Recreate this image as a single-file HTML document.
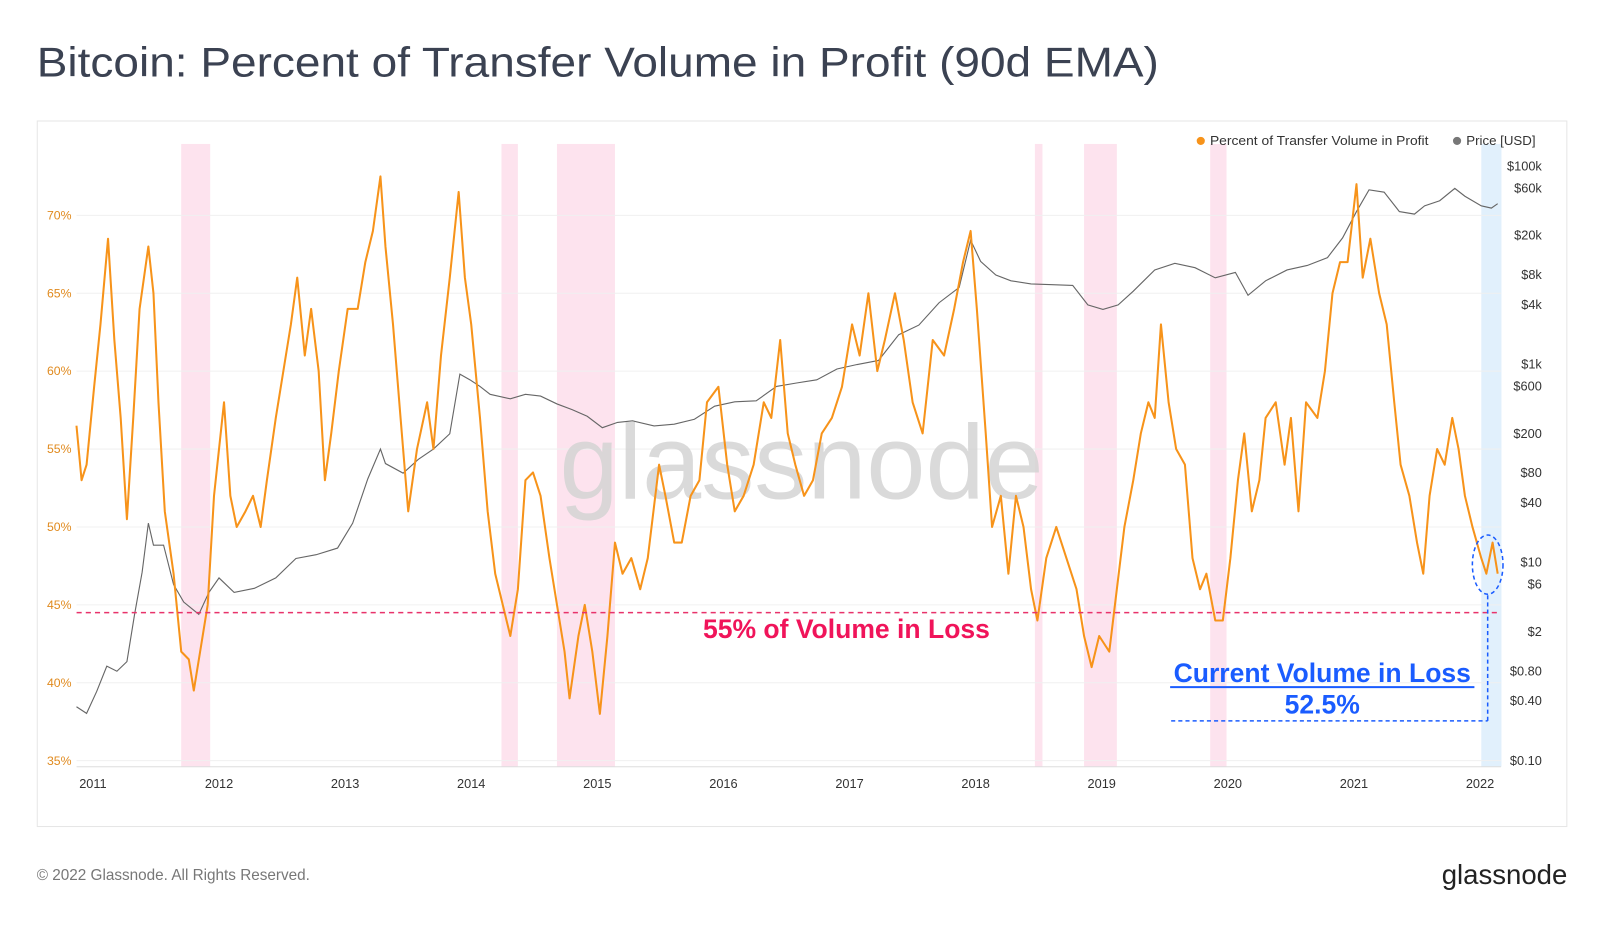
<!DOCTYPE html>
<html><head><meta charset="utf-8"><style>
body{margin:0;background:#fff;font-family:"Liberation Sans",sans-serif;overflow:hidden;}
svg text{font-family:"Liberation Sans",sans-serif;}
</style></head><body>
<svg width="1600" height="922" viewBox="0 0 1567 903" preserveAspectRatio="none">
<text x="36" y="75" font-size="41" fill="#3b4252" textLength="1099" lengthAdjust="spacingAndGlyphs">Bitcoin: Percent of Transfer Volume in Profit (90d EMA)</text>
<rect x="36.5" y="118.5" width="1498" height="691" fill="none" stroke="#e6e6e6"/>
<g id="bands"></g>
<g id="grid"></g>
<text x="785" y="488" font-size="104" fill="#d4d4d4" text-anchor="middle" opacity="0.85">glassnode</text>
<g id="series"></g>
<g id="axes"></g>
<line x1="75" y1="600" x2="1468" y2="600" stroke="#e8336b" stroke-width="1.5" stroke-dasharray="5,4"/>
<text x="829" y="625" font-size="26" font-weight="bold" fill="#f0145a" text-anchor="middle">55% of Volume in Loss</text>
<text x="1295" y="668" font-size="26" font-weight="bold" fill="#1a5cff" text-anchor="middle">Current Volume in Loss</text>
<line x1="1146" y1="673" x2="1444" y2="673" stroke="#1a5cff" stroke-width="2"/>
<text x="1295" y="699" font-size="26" font-weight="bold" fill="#1a5cff" text-anchor="middle">52.5%</text>
<line x1="1147" y1="706" x2="1457" y2="706" stroke="#1a5cff" stroke-width="1.5" stroke-dasharray="4,3"/>
<line x1="1457" y1="583" x2="1457" y2="706" stroke="#1a5cff" stroke-width="1.5" stroke-dasharray="4,3"/>
<ellipse cx="1457" cy="553" rx="15" ry="29" fill="none" stroke="#1a5cff" stroke-width="1.5" stroke-dasharray="4,3"/>
<circle cx="1176" cy="138" r="4" fill="#f7931a"/>
<text x="1185" y="142" font-size="13" fill="#333" textLength="214" lengthAdjust="spacingAndGlyphs">Percent of Transfer Volume in Profit</text>
<circle cx="1427" cy="138" r="4" fill="#777"/>
<text x="1436" y="142" font-size="13" fill="#333">Price [USD]</text>
<text x="36" y="862" font-size="15" fill="#777">© 2022 Glassnode. All Rights Reserved.</text>
<text x="1535" y="866" font-size="27" fill="#222" text-anchor="end">glassnode</text>
</svg>
<script>
const pctDates=[2010.87,2010.91,2010.95,2011.01,2011.06,2011.12,2011.17,2011.22,2011.27,2011.32,2011.37,2011.44,2011.48,2011.52,2011.57,2011.64,2011.70,2011.76,2011.80,2011.85,2011.91,2011.96,2012.04,2012.09,2012.14,2012.21,2012.27,2012.33,2012.38,2012.45,2012.51,2012.57,2012.62,2012.68,2012.73,2012.79,2012.84,2012.89,2012.95,2013.02,2013.10,2013.16,2013.22,2013.28,2013.32,2013.38,2013.44,2013.50,2013.57,2013.65,2013.70,2013.76,2013.83,2013.90,2013.95,2014.00,2014.07,2014.13,2014.19,2014.25,2014.31,2014.37,2014.43,2014.49,2014.55,2014.62,2014.68,2014.74,2014.78,2014.85,2014.90,2014.96,2015.02,2015.08,2015.14,2015.20,2015.27,2015.34,2015.40,2015.49,2015.54,2015.61,2015.67,2015.74,2015.81,2015.87,2015.96,2016.03,2016.09,2016.16,2016.24,2016.32,2016.38,2016.45,2016.51,2016.57,2016.64,2016.71,2016.78,2016.86,2016.94,2017.02,2017.08,2017.15,2017.22,2017.28,2017.36,2017.43,2017.50,2017.58,2017.66,2017.75,2017.83,2017.90,2017.96,2018.01,2018.08,2018.13,2018.20,2018.26,2018.32,2018.38,2018.44,2018.49,2018.56,2018.64,2018.72,2018.80,2018.86,2018.92,2018.98,2019.06,2019.12,2019.18,2019.25,2019.31,2019.37,2019.42,2019.47,2019.53,2019.59,2019.66,2019.72,2019.78,2019.83,2019.90,2019.96,2020.02,2020.08,2020.13,2020.19,2020.25,2020.30,2020.38,2020.45,2020.50,2020.56,2020.62,2020.71,2020.77,2020.83,2020.89,2020.95,2021.02,2021.07,2021.13,2021.20,2021.26,2021.32,2021.37,2021.44,2021.50,2021.55,2021.60,2021.66,2021.72,2021.78,2021.83,2021.88,2021.94,2022.01,2022.05,2022.10,2022.14];
const pctValues=[56.5,53,54,59,63,68.5,62,57,50.5,57,64,68,65,58,51,47,42,41.5,39.5,42,45,52,58,52,50,51,52,50,53,57,60,63,66,61,64,60,53,56,60,64,64,67,69,72.5,68,63,57,51,55,58,55,61,66,71.5,66,63,57,51,47,45,43,46,53,53.5,52,48,45,42,39,43,45,42,38,43,49,47,48,46,48,54,52,49,49,52,53,58,59,54,51,52,54,58,57,62,56,54,52,53,56,57,59,63,61,65,60,62,65,62,58,56,62,61,64,67,69,64,56,50,52,47,52,50,46,44,48,50,48,46,43,41,43,42,46,50,53,56,58,57,63,58,55,54,48,46,47,44,44,48,53,56,51,53,57,58,54,57,51,58,57,60,65,67,67,72,66,68.5,65,63,58,54,52,49,47,52,55,54,57,55,52,50,48,47,49,47];
const priceDates=[2010.87,2010.95,2011.03,2011.11,2011.19,2011.27,2011.33,2011.39,2011.44,2011.48,2011.56,2011.64,2011.72,2011.84,2011.92,2012.0,2012.12,2012.28,2012.45,2012.61,2012.77,2012.94,2013.06,2013.18,2013.28,2013.32,2013.46,2013.58,2013.70,2013.83,2013.91,2013.99,2014.07,2014.15,2014.31,2014.43,2014.55,2014.68,2014.80,2014.92,2015.04,2015.16,2015.28,2015.45,2015.61,2015.77,2015.93,2016.09,2016.26,2016.42,2016.58,2016.74,2016.90,2017.06,2017.23,2017.39,2017.55,2017.71,2017.87,2017.96,2018.04,2018.16,2018.28,2018.44,2018.61,2018.77,2018.89,2019.01,2019.13,2019.25,2019.42,2019.58,2019.74,2019.90,2020.06,2020.16,2020.30,2020.47,2020.63,2020.79,2020.91,2021.02,2021.12,2021.24,2021.36,2021.48,2021.56,2021.68,2021.80,2021.88,2022.01,2022.09,2022.14];
const priceValues=[0.35,0.3,0.5,0.9,0.8,1,3,8,25,15,15,6,4,3,5,7,5,5.5,7,11,12,14,25,70,140,100,80,110,140,200,800,700,600,500,450,500,480,400,350,300,230,260,270,240,250,280,380,420,430,600,650,700,900,1000,1100,2000,2500,4200,6000,18000,11000,8000,7000,6500,6400,6300,4000,3600,4000,5500,9000,10500,9500,7500,8500,5000,7000,9000,10000,12000,19000,35000,58000,55000,35000,33000,40000,45000,60000,50000,40000,38000,42000];
const pctTicks=[35,40,45,50,55,60,65,70];
const priceTicks=[0.1,0.4,0.8,2,6,10,40,80,200,600,1000,4000,8000,20000,60000,100000];
const priceTickLabels=["$0.10","$0.40","$0.80","$2","$6","$10","$40","$80","$200","$600","$1k","$4k","$8k","$20k","$60k","$100k"];
const yearTicks=[2011,2012,2013,2014,2015,2016,2017,2018,2019,2020,2021,2022];
const lossBands=[[2011.70,2011.93],[2014.24,2014.37],[2014.68,2015.14],[2018.47,2018.53],[2018.86,2019.12],[2019.86,2019.99]];
const currentBand=[2022.01,2022.17];

const NS="http://www.w3.org/2000/svg";
const xS=d=>91+(d-2011)*123.5;
const yP=v=>745-(v-35)*15.26;
const yL=v=>745-(Math.log10(v)+1)*97;
function mk(tag,attrs,parent){const e=document.createElementNS(NS,tag);for(const k in attrs)e.setAttribute(k,attrs[k]);document.getElementById(parent).appendChild(e);return e;}
lossBands.forEach(b=>{const r=mk('rect',{x:xS(b[0]),y:141,width:xS(b[1])-xS(b[0]),height:610,fill:'#fde3ee'},'bands');

});
{const r=mk('rect',{x:xS(currentBand[0]),y:141,width:xS(currentBand[1])-xS(currentBand[0]),height:610,fill:'#e1f0fc'},'bands');

}
pctTicks.forEach(t=>{const l=mk('line',{x1:75,x2:1470,y1:yP(t),y2:yP(t),stroke:'#f0f0f0'},'grid');


const tx=mk('text',{x:46,y:yP(t)+4,'font-size':12,fill:'#e08a1e'},'axes');tx.textContent=t+'%';

});
priceTicks.forEach((t,i)=>{const tx=mk('text',{x:1510,y:yL(t)+4,'font-size':12.5,fill:'#333','text-anchor':'end'},'axes');tx.textContent=priceTickLabels[i];

});
yearTicks.forEach(t=>{const tx=mk('text',{x:xS(t),y:772,'font-size':12.5,fill:'#333','text-anchor':'middle'},'axes');tx.textContent=t;

});
{const l=mk('line',{x1:75,x2:1470,y1:751,y2:751,stroke:'#ddd'},'axes');

}
const pp=mk('path',{d:priceDates.map((d,i)=>(i?'L':'M')+xS(d).toFixed(1)+','+yL(priceValues[i]).toFixed(1)).join(''),fill:'none',stroke:'#666','stroke-width':1.1},'series');


const op=mk('path',{d:pctDates.map((d,i)=>(i?'L':'M')+xS(d).toFixed(1)+','+yP(pctValues[i]).toFixed(1)).join(''),fill:'none',stroke:'#f7931a','stroke-width':2,'stroke-linejoin':'round'},'series');


</script>
</body></html>
